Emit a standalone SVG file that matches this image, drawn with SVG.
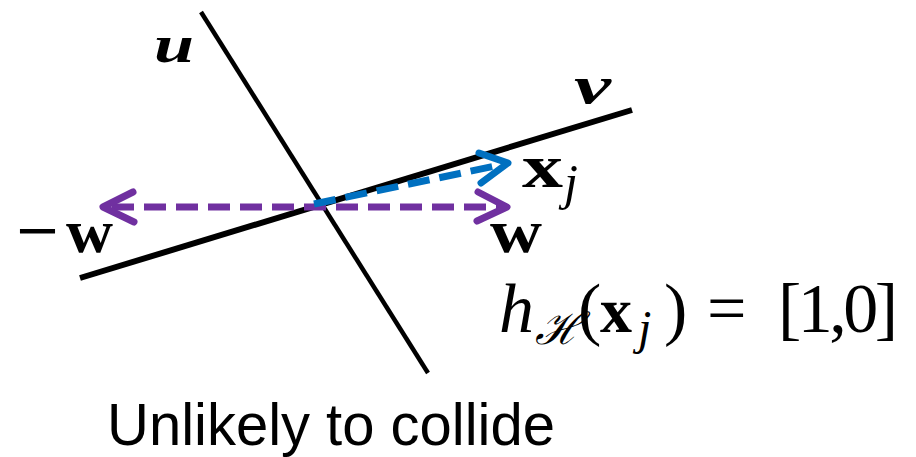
<svg xmlns="http://www.w3.org/2000/svg" width="916" height="457" viewBox="0 0 916 457">
<style>
.ax{stroke:#000;fill:none;stroke-linecap:butt}
.pur{stroke:#7030A0;fill:none;stroke-width:7}
.blu{stroke:#0070C0;fill:none;stroke-width:7}
.dash{stroke-dasharray:22 10}
.head{stroke-linecap:round;stroke-linejoin:round}
.math{font-family:"Liberation Serif","Times New Roman",serif;fill:#000}
.lbl{font-family:"Liberation Sans",Arial,sans-serif;fill:#000}
</style>
<rect width="916" height="457" fill="#fff"/>
<g id="axis-u">
<line class="ax" x1="201" y1="12" x2="428" y2="373" stroke-width="4.5"/>
<text class="math" x="154" y="62" font-size="52" font-style="italic" font-weight="bold" textLength="40" lengthAdjust="spacingAndGlyphs">u</text>
</g>
<g id="axis-v">
<line class="ax" x1="80" y1="278" x2="632" y2="110" stroke-width="6"/>
<text class="math" x="574" y="103" font-size="52" font-style="italic" font-weight="bold" textLength="37" lengthAdjust="spacingAndGlyphs">v</text>
</g>
<g id="connectors">
<line class="pur dash" x1="112" y1="207" x2="500" y2="207"/>
<polyline class="pur head" points="133,192 103,207 134,222"/>
<polyline class="pur head" points="478,192 507,207 477,221"/>
<line class="blu dash" x1="314" y1="204" x2="500" y2="165"/>
<polyline class="blu head" points="479,153 508,163 481,183"/>
</g>
<g id="label-xj">
<text class="math" x="522" y="187" font-size="62" font-weight="bold"><tspan x="522" textLength="41" lengthAdjust="spacingAndGlyphs">x</tspan><tspan x="564" y="199" font-size="50" font-weight="normal" font-style="italic">j</tspan></text>
</g>
<g id="label-w">
<text class="math" x="490" y="252" font-size="62" font-weight="bold" textLength="52" lengthAdjust="spacingAndGlyphs">w</text>
</g>
<g id="label-negw">
<text class="math" x="16" y="252" font-size="62" font-weight="bold"><tspan x="16" textLength="43" lengthAdjust="spacingAndGlyphs">−</tspan><tspan x="66" textLength="47" lengthAdjust="spacingAndGlyphs">w</tspan></text>
</g>
<g id="formula">
<text class="math" x="501" y="332" font-size="70"><tspan x="499" font-style="italic">h</tspan><tspan x="535" y="344" font-size="44" font-style="italic" font-family="DejaVu Serif,serif">ℋ</tspan><tspan x="578" y="332">(</tspan><tspan x="600" font-size="64" font-weight="bold">x</tspan><tspan x="638" y="344" font-size="48" font-style="italic">j</tspan><tspan x="664" y="332">)</tspan><tspan x="707">=</tspan><tspan x="778" textLength="120" lengthAdjust="spacing">[1,0]</tspan></text>
</g>
<g id="caption">
<text class="lbl" x="107" y="445" font-size="60" textLength="448" lengthAdjust="spacingAndGlyphs">Unlikely to collide</text>
</g>
</svg>
